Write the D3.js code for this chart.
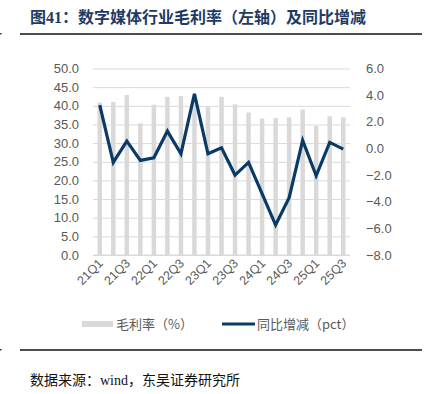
<!DOCTYPE html>
<html>
<head>
<meta charset="utf-8">
<script src="https://cdn.jsdelivr.net/npm/d3@7"></script>
<style>
  body { margin: 0; background: #fff; }
  svg { display: block; }
</style>
</head>
<body>
<svg id="chart"></svg>
<script>
// 季度
const quarters = ["21Q1","21Q2","21Q3","21Q4","22Q1","22Q2","22Q3","22Q4","23Q1","23Q2",
  "23Q3","23Q4","24Q1","24Q2","24Q3","24Q4","25Q1","25Q2","25Q3"];
// 毛利率（%）左轴
const grossMargin = [40.9, 41.0, 42.9, 35.3, 40.3, 42.4, 42.6, 42.0, 39.7, 42.4,
  40.4, 38.2, 36.6, 36.7, 36.9, 39.0, 34.6, 37.2, 36.9];
// 同比增减（pct）右轴
const yoyChange = [3.25, -1.05, 0.55, -0.9, -0.7, 1.3, -0.4, 4.1, -0.4, 0.05,
  -2.0, -1.05, -3.4, -5.75, -3.7, 0.6, -2.05, 0.45, -0.05];
// 左右轴刻度
const leftTicks = [0, 5, 10, 15, 20, 25, 30, 35, 40, 45, 50];
const rightTicks = [-8, -6, -4, -2, 0, 2, 4, 6];

const W = 427, H = 394;
const svg = d3.select("#chart").attr("width", W).attr("height", H);

const plot = { left: 93, right: 350, top: 68.5, bottom: 255 };
const grey = "#595959";
const navy = "#0A3A66";
const sansFont = "'Liberation Sans', Arial, sans-serif";
const cjkFont = "'Liberation Serif', 'Noto Sans CJK SC', serif";

// 标题
svg.append("text")
  .attr("x", 30).attr("y", 23)
  .attr("font-family", cjkFont)
  .attr("font-weight", "bold")
  .attr("font-size", 16)
  .attr("fill", "#1F3B63")
  .text("图41：数字媒体行业毛利率（左轴）及同比增减");

svg.append("line")
  .attr("x1", 20).attr("x2", 422).attr("y1", 34).attr("y2", 34)
  .attr("stroke", "#111").attr("stroke-width", 1.5);
svg.append("rect").attr("x", 0).attr("y", 33).attr("width", 1.5).attr("height", 1.5).attr("fill", "#333");

// 比例尺
const x = d3.scaleBand().domain(quarters).range([plot.left, plot.right]);
const yL = d3.scaleLinear().domain([0, 50]).range([plot.bottom, plot.top]);
const yR = d3.scaleLinear().domain([-8, 6]).range([plot.bottom, plot.top]);

// 网格线
svg.append("g")
  .attr("transform", `translate(${plot.left},0)`)
  .call(d3.axisLeft(yL).tickValues(leftTicks).tickSize(-(plot.right - plot.left)).tickFormat(""))
  .call(g => g.select(".domain").remove())
  .call(g => g.selectAll("line").attr("stroke", "#D9D9D9").attr("stroke-width", 1));

// 左轴
svg.append("g")
  .attr("transform", `translate(${plot.left - 11},0)`)
  .call(d3.axisLeft(yL).tickValues(leftTicks).tickSize(0).tickFormat(d3.format(".1f")))
  .call(g => g.select(".domain").remove())
  .call(g => g.selectAll("text").attr("fill", grey).attr("font-size", 13).attr("font-family", sansFont).attr("dx", 0));

// 右轴
svg.append("g")
  .attr("transform", `translate(${plot.right + 13},0)`)
  .call(d3.axisRight(yR).tickValues(rightTicks).tickSize(0).tickFormat(d3.format(".1f")))
  .call(g => g.select(".domain").remove())
  .call(g => g.selectAll("text").attr("fill", grey).attr("font-size", 13).attr("font-family", sansFont));

// 柱子
const barW = 4.5;
svg.append("g").selectAll("rect")
  .data(quarters)
  .join("rect")
  .attr("x", (d) => x(d) + x.bandwidth() / 2 - barW / 2)
  .attr("y", (d, i) => yL(grossMargin[i]))
  .attr("width", barW)
  .attr("height", (d, i) => yL(0) - yL(grossMargin[i]))
  .attr("fill", "#D9D9D9");

// 底部基线
svg.append("line")
  .attr("x1", plot.left).attr("x2", plot.right)
  .attr("y1", plot.bottom).attr("y2", plot.bottom)
  .attr("stroke", "#D9D9D9").attr("stroke-width", 1);

// 折线
const line = d3.line()
  .x((d, i) => x(quarters[i]) + x.bandwidth() / 2)
  .y(d => yR(d));
svg.append("path")
  .datum(yoyChange)
  .attr("d", line)
  .attr("fill", "none")
  .attr("stroke", navy)
  .attr("stroke-width", 3.2)
  .attr("stroke-linejoin", "miter");

// X轴标签（隔一个显示）
svg.append("g")
  .attr("transform", `translate(0,${plot.bottom})`)
  .call(d3.axisBottom(x).tickSize(0).tickValues(quarters.filter((d, i) => i % 2 === 0)))
  .call(g => g.select(".domain").remove())
  .call(g => g.selectAll("text")
    .attr("fill", grey).attr("font-size", 12.5).attr("font-family", sansFont)
    .attr("text-anchor", "end")
    .attr("dy", 0).attr("y", 0)
    .attr("transform", "translate(4,9) rotate(-45)"));

// 图例
const legY = 324;
const legFont = "'Noto Sans CJK SC', sans-serif";
svg.append("rect").attr("x", 82).attr("y", legY - 3).attr("width", 31).attr("height", 6).attr("fill", "#D9D9D9");
svg.append("text").attr("x", 116).attr("y", legY + 4.5)
  .attr("font-family", legFont).attr("font-size", 13).attr("fill", grey)
  .text("毛利率（%）");
svg.append("line").attr("x1", 222).attr("x2", 255).attr("y1", legY).attr("y2", legY)
  .attr("stroke", navy).attr("stroke-width", 3.2);
svg.append("text").attr("x", 257).attr("y", legY + 4.5)
  .attr("font-family", legFont).attr("font-size", 13).attr("fill", grey)
  .text("同比增减（pct）");

// 底部分隔线和数据来源
svg.append("line")
  .attr("x1", 20).attr("x2", 422).attr("y1", 350).attr("y2", 350)
  .attr("stroke", "#111").attr("stroke-width", 1.5);
svg.append("rect").attr("x", 0).attr("y", 349).attr("width", 1.5).attr("height", 1.5).attr("fill", "#333");
svg.append("text")
  .attr("x", 30).attr("y", 385)
  .attr("font-family", cjkFont)
  .attr("font-size", 14)
  .attr("fill", "#111")
  .text("数据来源：wind，东吴证券研究所");
</script>
</body>
</html>
